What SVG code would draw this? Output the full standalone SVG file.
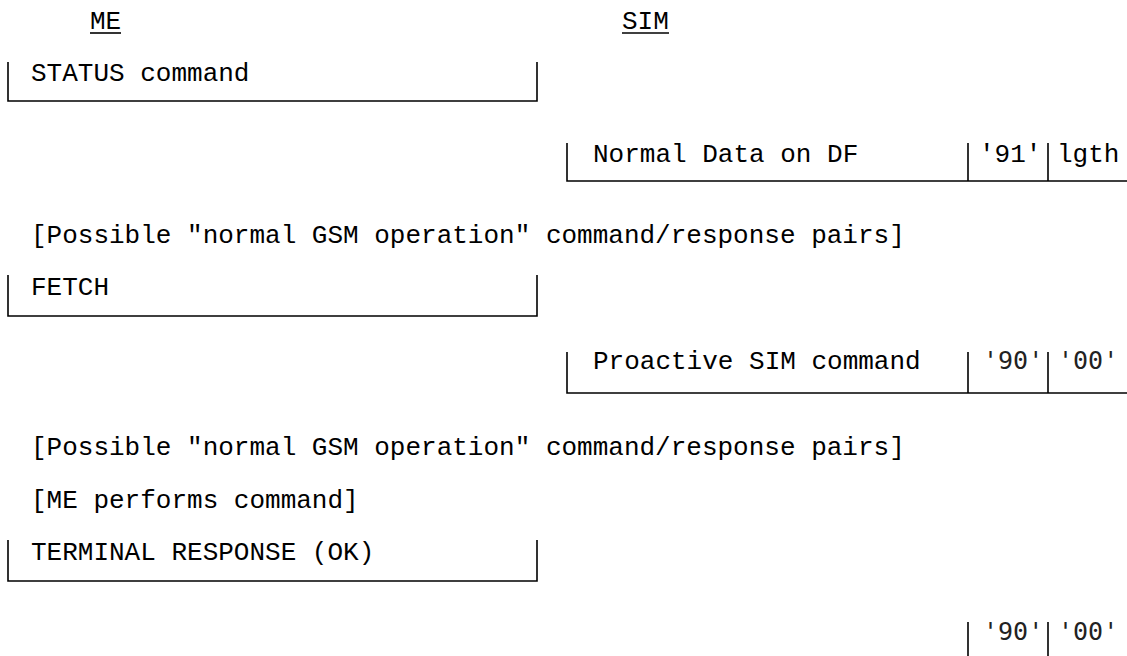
<svg xmlns="http://www.w3.org/2000/svg" width="1127" height="656" viewBox="0 0 1127 656">
<style>
.t{font-family:"Courier New","Nimbus Mono PS","Liberation Mono",monospace;font-size:26px;fill:#000}
.s{font-family:"DejaVu Sans Mono",monospace;font-size:25px;fill:#222}
.l{stroke:#000;stroke-width:1.6;fill:none}
</style>
<rect width="1127" height="656" fill="#fff"/>
<g id="header">
<text class="t" x="90" y="29">ME</text>
<line class="l" x1="90" y1="33" x2="121" y2="33"/>
<text class="t" x="622" y="29">SIM</text>
<line class="l" x1="622" y1="33" x2="669" y2="33"/>
</g>
<g id="status">
<text class="t" x="31" y="81">STATUS command</text>
</g>
<g id="normaldata">
<text class="t" x="593" y="162">Normal Data on DF</text>
<text class="t" x="979" y="162">'91'</text>
<text class="t" x="1057" y="162">lgth</text>
</g>
<g id="possible1">
<text class="t" x="31" y="243">[Possible "normal GSM operation" command/response pairs]</text>
</g>
<g id="fetch">
<text class="t" x="31" y="295">FETCH</text>
</g>
<g id="proactive">
<text class="t" x="593" y="369">Proactive SIM command</text>
<text class="s" x="983" y="369">'90'</text>
<text class="s" x="1058" y="369">'00'</text>
</g>
<g id="possible2">
<text class="t" x="31" y="455">[Possible "normal GSM operation" command/response pairs]</text>
</g>
<g id="performs">
<text class="t" x="31" y="508">[ME performs command]</text>
</g>
<g id="terminal">
<text class="t" x="31" y="560">TERMINAL RESPONSE (OK)</text>
</g>
<g id="sw">
<text class="s" x="983" y="640">'90'</text>
<text class="s" x="1058" y="640">'00'</text>
</g>
<g id="connectors">
<path class="l" d="M8,62V101H537V62"/>
<path class="l" d="M567,143V181H1127M968,143V181M1048,143V181"/>
<path class="l" d="M8,275V316H537V275"/>
<path class="l" d="M567,352V393H1127M968,352V393M1048,352V393"/>
<path class="l" d="M8,540V581H537V540"/>
<path class="l" d="M968,622V656M1048,622V656"/>
</g>
</svg>
